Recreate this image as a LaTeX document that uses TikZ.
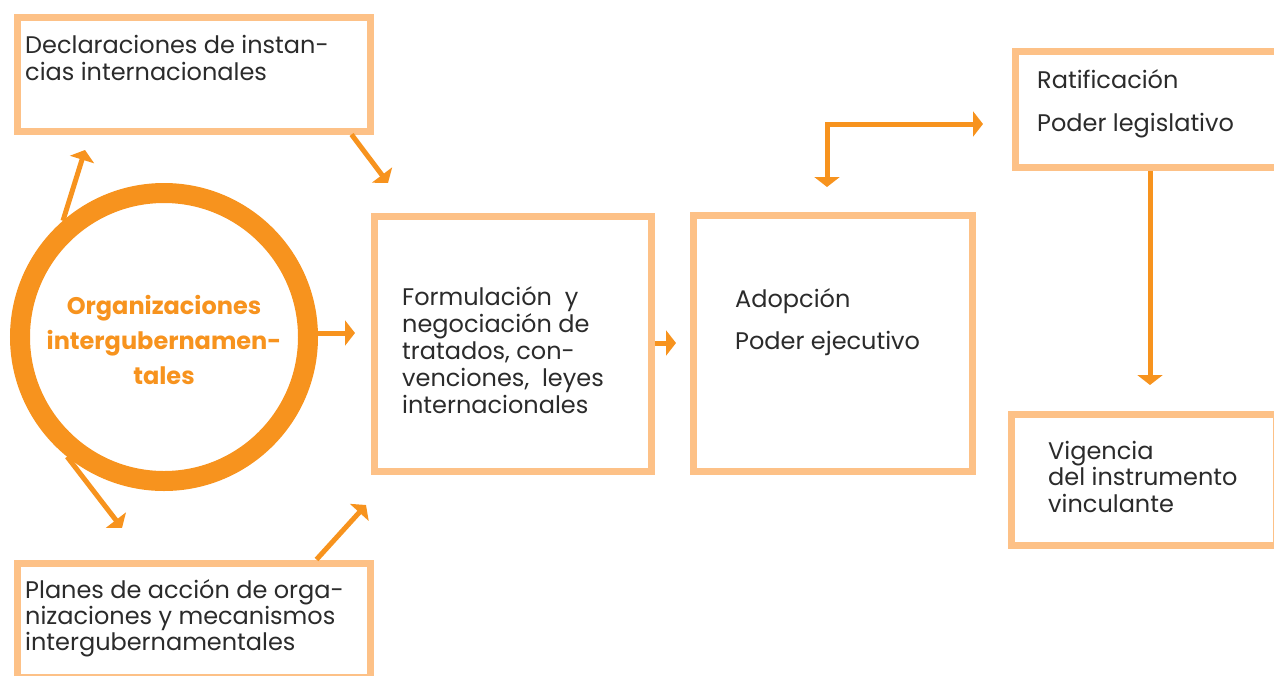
\documentclass[tikz,border=0pt]{standalone}
\usepackage{fontspec}
\setmainfont{Poppins}
\usetikzlibrary{arrows.meta}
\definecolor{boxc}{HTML}{FDC187}
\definecolor{arr}{HTML}{F7931E}
\definecolor{txt}{HTML}{2B2B2B}
\begin{document}
\begin{tikzpicture}[x=1pt,y=-1pt,
  box/.style={draw=boxc,line width=7pt,inner sep=0pt,anchor=north west,fill=white},
  lbl/.style={inner sep=0pt,anchor=base west,align=left,text=txt,font=\fontsize{24}{#1}\selectfont},
  conn/.style={draw=arr,line width=5pt,-{Triangle[length=10pt,width=25pt]}},
  conn2/.style={draw=arr,line width=5pt,{Triangle[length=10pt,width=25pt]}-{Triangle[length=10pt,width=25pt]}}]
\useasboundingbox (0,0) rectangle (1274,675);
% boxes
\node[box,minimum width=353pt,minimum height=114pt] (decl) at (13.5,13.5) {};
\node[box,minimum width=277pt,minimum height=255pt] (form) at (370.5,212.5) {};
\node[box,minimum width=279pt,minimum height=256pt] (adop) at (689.5,211.5) {};
\node[box,minimum width=290pt,minimum height=116pt] (rat) at (1011.5,47.5) {};
\node[box,minimum width=265pt,minimum height=131pt] (vig) at (1007.5,410.5) {};
\node[box,minimum width=353pt,minimum height=114pt] (plan) at (13.5,559.5) {};
\node[draw=arr,line width=20pt,circle,minimum size=288pt,inner sep=0pt] (circ) at (164,337) {};
% texts (anchor = baseline of last line)
\node[lbl=26.5] (declT) at (25,80) {Declaraciones de instan-\\cias internacionales};
\node[inner sep=0pt,anchor=base,align=center,text=arr,font=\fontsize{24}{35}\selectfont\bfseries] (circT) at (164,384) {Organizaciones\\intergubernamen-\\tales};
\node[lbl=26.8] (formT) at (402,413) {Formulación~~y\\negociación de\\tratados, con-\\venciones,~~leyes\\internacionales};
\node[lbl=42] (adopT) at (735,349) {Adopción\\Poder ejecutivo};
\node[lbl=43] (ratT) at (1037,131) {Ratificación\\Poder legislativo};
\node[lbl=26.5] (vigT) at (1048,512) {Vigencia\\del instrumento\\vinculante};
\node[lbl=26] (planT) at (25,650) {Planes de acción de orga-\\nizaciones y mecanismos\\intergubernamentales};
% free ends
\coordinate (a1) at (85,150);
\coordinate (a2) at (122,528);
\coordinate (a3) at (388,183);
\coordinate (a4) at (366,505);
\coordinate (a5) at (355,333);
\coordinate (a6) at (676,343);
\coordinate (a7) at (827,187);
\coordinate (a8) at (983,124);
\coordinate (a9) at (1150,385);
% connectors
\draw[conn] (circ.131) -- (a1);
\draw[conn] (circ.231) -- (a2);
\draw[conn] ([xshift=338pt]decl.south west) -- (a3);
\draw[conn] ([xshift=303pt]plan.north west) -- (a4);
\draw[conn] (circ.east |- a5) -- (a5);
\draw[conn] (form.east |- a6) -- (a6);
\draw[conn2] (a7) |- (a8);
\draw[conn] (rat.south west -| a9) -- (a9);
\end{tikzpicture}
\end{document}
